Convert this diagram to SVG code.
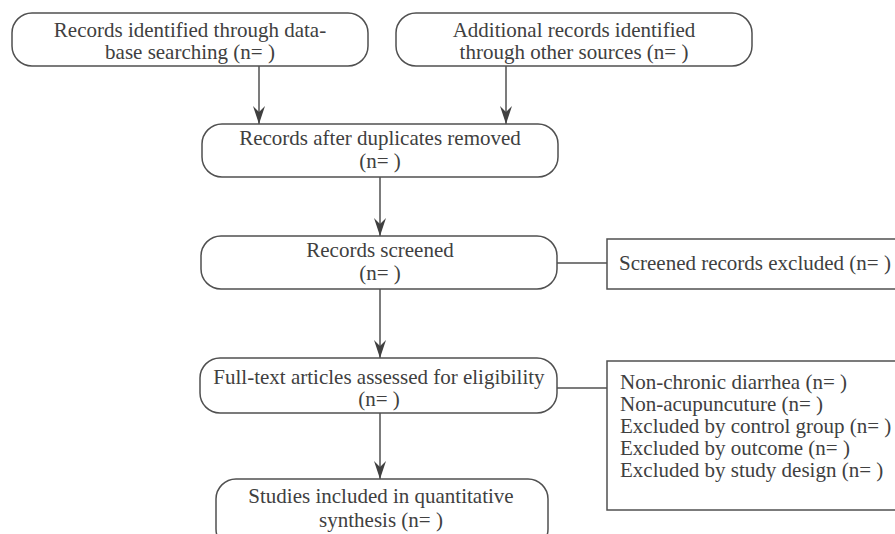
<svg xmlns="http://www.w3.org/2000/svg" width="895" height="534" viewBox="0 0 895 534">
<defs>
<style>
.box{fill:#fff;stroke:#505050;stroke-width:1.5}
.c{stroke:#505050;stroke-width:1.5;fill:none}
.t{font-family:'Liberation Serif','Times New Roman',serif;font-size:21px;fill:#404040;text-anchor:middle}
.l{font-family:'Liberation Serif','Times New Roman',serif;font-size:21px;fill:#404040}
</style>
<marker id="ar" markerWidth="20" markerHeight="12" refX="18" refY="6" orient="auto" markerUnits="userSpaceOnUse" viewBox="0 0 20 12">
<path d="M0,0 L6,6 L0,12 L18,6 Z" fill="#404040"/>
</marker>
</defs>
<g id="connectors">
<line class="c" x1="259" y1="66" x2="259" y2="124" marker-end="url(#ar)"/>
<line class="c" x1="506" y1="66" x2="506" y2="124" marker-end="url(#ar)"/>
<line class="c" x1="380" y1="177" x2="380" y2="236" marker-end="url(#ar)"/>
<line class="c" x1="380" y1="289" x2="380" y2="358" marker-end="url(#ar)"/>
<line class="c" x1="380" y1="413" x2="380" y2="479" marker-end="url(#ar)"/>
<line class="c" x1="557" y1="263" x2="607" y2="263"/>
<line class="c" x1="557" y1="388" x2="607" y2="388"/>
</g>
<g id="n1">
<rect class="box" x="12" y="13" width="356" height="53" rx="20"/>
<text class="t" x="190" y="37">Records identified through  data-</text>
<text class="t" x="190" y="59">base searching (n= )</text>
</g>
<g id="n2">
<rect class="box" x="396" y="13" width="356" height="53" rx="20"/>
<text class="t" x="574" y="37">Additional records identified</text>
<text class="t" x="574" y="59">through other sources (n= )</text>
</g>
<g id="n3">
<rect class="box" x="202" y="124" width="356" height="53" rx="20"/>
<text class="t" x="380" y="145">Records after duplicates removed</text>
<text class="t" x="380" y="168">(n= )</text>
</g>
<g id="n4">
<rect class="box" x="201" y="236" width="356" height="53" rx="20"/>
<text class="t" x="380" y="257">Records screened</text>
<text class="t" x="380" y="280">(n= )</text>
</g>
<g id="n5">
<rect class="box" x="607" y="239" width="290" height="50"/>
<text class="l" x="619" y="270">Screened records excluded (n= )</text>
</g>
<g id="n6">
<rect class="box" x="200" y="358" width="357" height="55" rx="20"/>
<text class="t" x="379" y="384">Full-text articles assessed for eligibility</text>
<text class="t" x="379" y="406">(n= )</text>
</g>
<g id="n7">
<rect class="box" x="607" y="361" width="290" height="149"/>
<text class="l" x="620" y="389">Non-chronic diarrhea (n= )</text>
<text class="l" x="620" y="411">Non-acupuncuture (n= )</text>
<text class="l" x="620" y="433">Excluded by control group (n= )</text>
<text class="l" x="620" y="455">Excluded by outcome (n= )</text>
<text class="l" x="620" y="477">Excluded by study design (n= )</text>
</g>
<g id="n8">
<rect class="box" x="216" y="479" width="332" height="70" rx="20"/>
<text class="t" x="381" y="503">Studies included in quantitative</text>
<text class="t" x="381" y="527">synthesis (n= )</text>
</g>
</svg>
